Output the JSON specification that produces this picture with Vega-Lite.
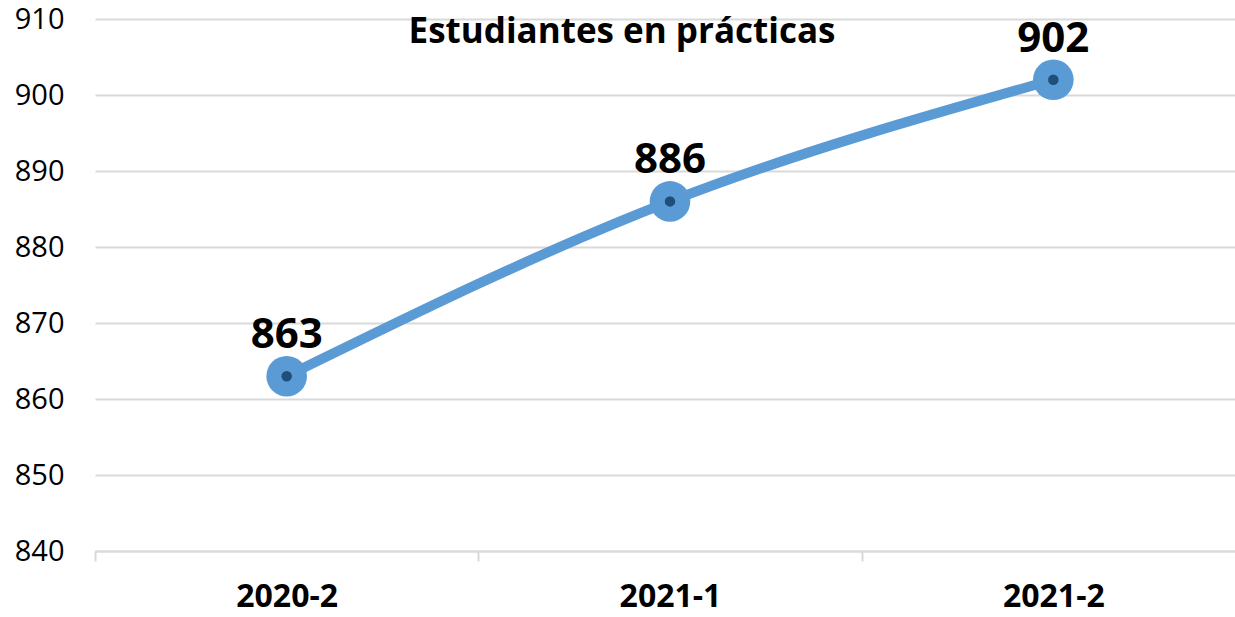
{
  "$schema": "https://vega.github.io/schema/vega-lite/v6.json",
  "autosize": "none",
  "width": 1150,
  "height": 532,
  "padding": {"left": 95, "top": 19, "right": 0, "bottom": 66},
  "background": "white",
  "config": {"view": {"stroke": null}, "font": "Open Sans"},
  "title": {"text": "Estudiantes en prácticas", "font": "Open Sans", "fontSize": 35, "fontWeight": "bold", "color": "#000000", "anchor": "middle", "dx": -48, "offset": -45},
  "data": {"values": [
    {"periodo": "2020-2", "estudiantes": 863},
    {"periodo": "2021-1", "estudiantes": 886},
    {"periodo": "2021-2", "estudiantes": 902}
  ]},
  "encoding": {
    "x": {"field": "periodo", "type": "ordinal", "scale": {"paddingInner": 0, "paddingOuter": 0},
      "axis": {"title": null, "labelAngle": 0, "labelFont": "Open Sans", "labelFontSize": 32, "labelFontWeight": "bold", "labelColor": "#000000", "labelPadding": 20, "domainColor": "#D9D9D9", "domainWidth": 2, "tickColor": "#D9D9D9", "tickWidth": 2, "tickSize": 10, "tickBand": "extent", "grid": false}},
    "y": {"field": "estudiantes", "type": "quantitative", "scale": {"domain": [840, 910], "zero": false, "nice": false},
      "axis": {"title": null, "values": [840, 850, 860, 870, 880, 890, 900, 910], "labelFont": "Open Sans", "labelFontSize": 29, "labelColor": "#000000", "labelPadding": 31, "domain": false, "ticks": false, "grid": true, "gridColor": "#D9D9D9", "gridWidth": 2}}
  },
  "layer": [
    {"mark": {"type": "line", "interpolate": "monotone", "color": "#5B9BD5", "strokeWidth": 10}},
    {"mark": {"type": "circle", "color": "#5B9BD5", "size": 1650, "opacity": 1}},
    {"mark": {"type": "circle", "color": "#1F4E79", "size": 110, "opacity": 1}},
    {"mark": {"type": "text", "font": "Open Sans", "fontSize": 42, "fontWeight": "bold", "color": "#000000", "baseline": "alphabetic", "dy": -28},
      "encoding": {"text": {"field": "estudiantes", "type": "quantitative"}}}
  ]
}
